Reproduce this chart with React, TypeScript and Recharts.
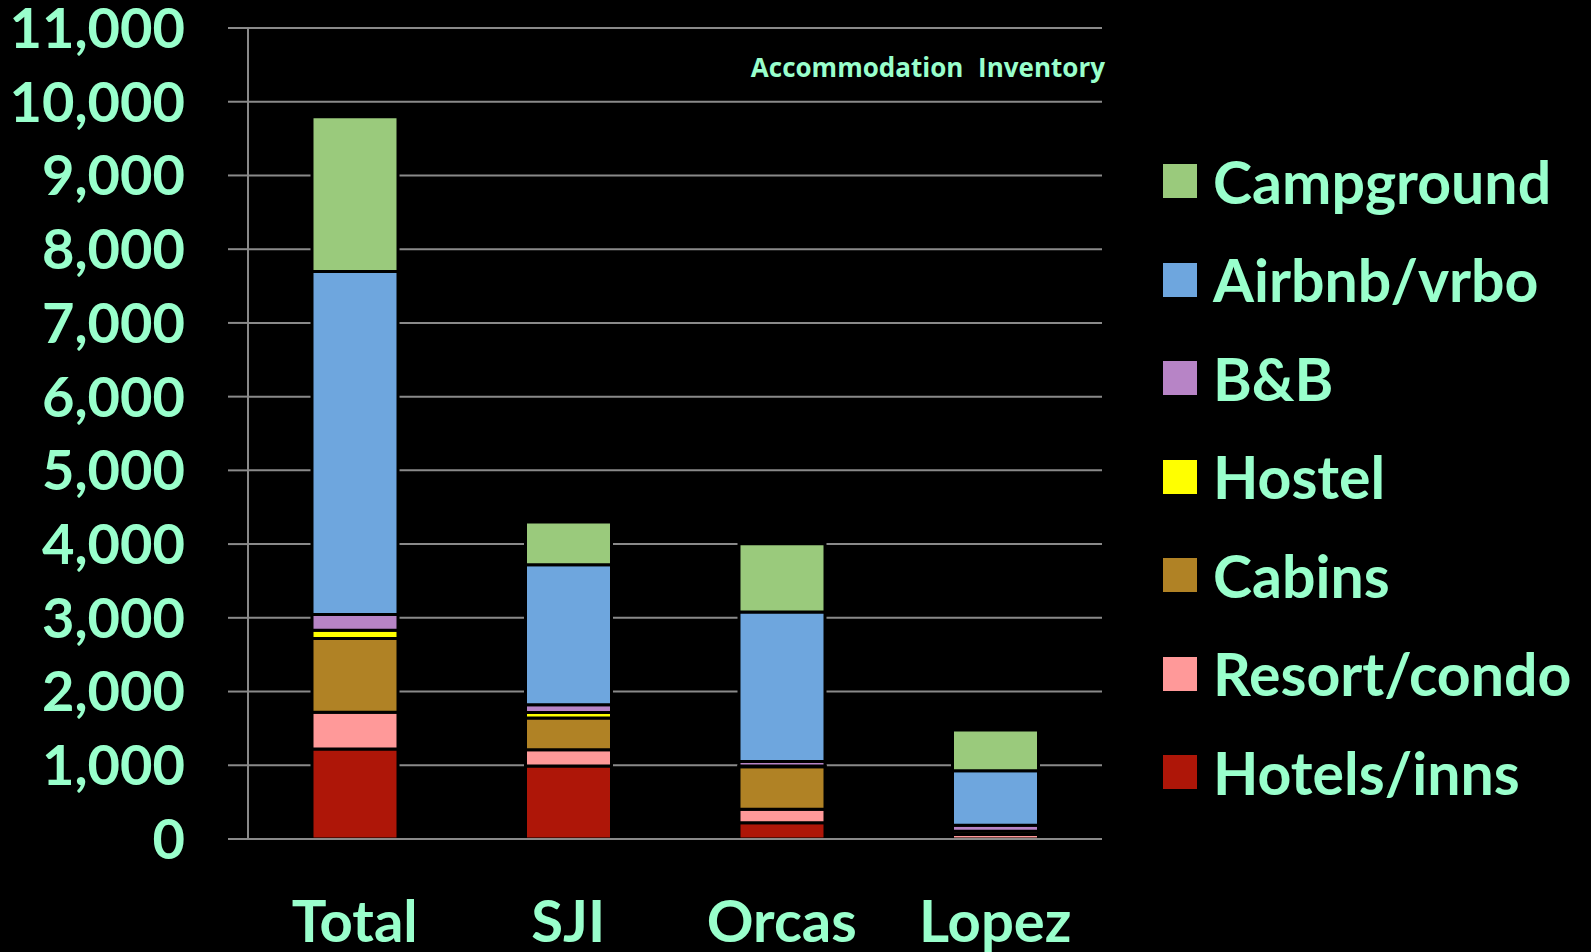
import { Bar, BarChart, CartesianGrid, Legend, XAxis, YAxis } from "recharts";

const islands = ["Total", "SJI", "Orcas", "Lopez"];

const hotels = [1220, 990, 220, 0];
const resort = [500, 220, 185, 60];
const cabins = [1000, 430, 575, 45];
const hostel = [110, 75, 10, 0];
const bnb = [216, 106, 60, 80];
const airbnb = [4650, 1900, 2030, 740];
const campground = [2100, 580, 925, 555];

const yTicks = [0, 1000, 2000, 3000, 4000, 5000, 6000, 7000, 8000, 9000, 10000, 11000];

const series = [
  { key: "hotels", name: "Hotels/inns", color: "#AE1608", values: hotels },
  { key: "resort", name: "Resort/condo", color: "#FF9999", values: resort },
  { key: "cabins", name: "Cabins", color: "#B08225", values: cabins },
  { key: "hostel", name: "Hostel", color: "#FFFF00", values: hostel },
  { key: "bnb", name: "B&B", color: "#B784C6", values: bnb },
  { key: "airbnb", name: "Airbnb/vrbo", color: "#6EA6DE", values: airbnb },
  { key: "campground", name: "Campground", color: "#9ACA7C", values: campground },
];

const data = islands.map((island, i) => {
  const row: Record<string, string | number> = { island };
  series.forEach((s) => (row[s.key] = s.values[i]));
  return row;
});

const textColor = "#99FFCC";
const font = "Lato, 'Open Sans', sans-serif";

const renderLegend = () => (
  <div style={{ fontFamily: font, fontWeight: 700, color: textColor }}>
    {[...series].reverse().map((s) => (
      <div
        key={s.key}
        style={{ height: 98.5, display: "flex", alignItems: "center" }}
      >
        <span
          style={{
            width: 34,
            height: 34,
            background: s.color,
            display: "inline-block",
            marginRight: 16,
          }}
        />
        <span style={{ fontSize: 59, lineHeight: 1 }}>{s.name}</span>
      </div>
    ))}
  </div>
);

export default function App() {
  return (
    <div style={{ position: "relative", width: 1591, height: 952, background: "#000" }}>
      <style>{"body{margin:0;background:#000}"}</style>
      <BarChart
        width={1591}
        height={952}
        data={data}
        margin={{ top: 28, right: 489, left: 0, bottom: 0 }}
        barSize={86}
      >
        <CartesianGrid vertical={false} stroke="#8a8a8a" strokeWidth={2} />
        <XAxis
          dataKey="island"
          height={113}
          axisLine={{ stroke: "#8a8a8a", strokeWidth: 2 }}
          tickLine={false}
          tickSize={0}
          tickMargin={62}
          tick={{ fill: textColor, fontSize: 58, fontWeight: 700, fontFamily: font }}
        />
        <YAxis
          width={248}
          domain={[0, 11000]}
          ticks={yTicks}
          interval={0}
          axisLine={{ stroke: "#8a8a8a", strokeWidth: 2 }}
          tickLine={{ stroke: "#8a8a8a", strokeWidth: 2 }}
          tickSize={20}
          tickMargin={43}
          tickFormatter={(v: number) => v.toLocaleString("en-US")}
          tick={{ fill: textColor, fontSize: 56, fontWeight: 700, fontFamily: font }}
        />
        <Legend
          layout="vertical"
          align="center"
          verticalAlign="middle"
          content={renderLegend}
          wrapperStyle={{ left: 1163, top: 132, width: 428 }}
        />
        {series.map((s) => (
          <Bar
            key={s.key}
            dataKey={s.key}
            name={s.name}
            stackId="a"
            fill={s.color}
            stroke="#000"
            strokeWidth={3}
            isAnimationActive={false}
          />
        ))}
      </BarChart>
      <div
        style={{
          position: "absolute",
          right: 486,
          top: 54,
          fontFamily: "'Open Sans', sans-serif",
          fontWeight: 700,
          fontSize: 26,
          lineHeight: 1,
          wordSpacing: 8,
          color: textColor,
          whiteSpace: "nowrap",
        }}
      >
        Accommodation Inventory
      </div>
    </div>
  );
}
